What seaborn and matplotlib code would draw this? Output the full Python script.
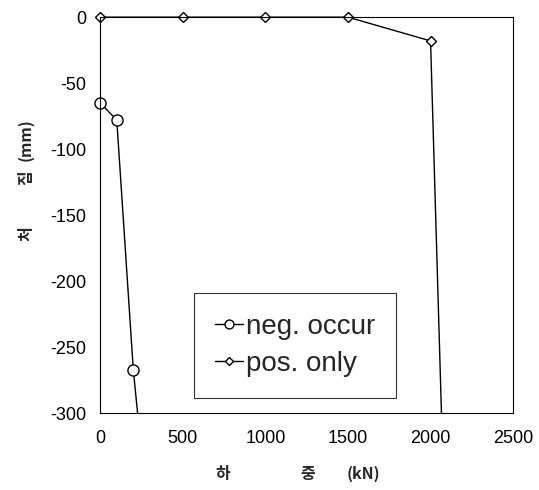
import matplotlib
matplotlib.use("Agg")
import matplotlib.pyplot as plt
import seaborn as sns
import pandas as pd

sns.set_theme(style="white")
plt.rcParams['font.family'] = ['Liberation Sans', 'Noto Sans CJK KR', 'DejaVu Sans']
plt.rcParams['axes.unicode_minus'] = False

# data
neg_x = [0, 100, 200, 226]
neg_y = [-65, -78, -267, -300]
pos_x = [0, 500, 1000, 1500, 2000, 2066]
pos_y = [0, 0, 0, 0, -18, -300]
x_ticks = [0, 500, 1000, 1500, 2000, 2500]
y_ticks = [0, -50, -100, -150, -200, -250, -300]
labels = ["neg. occur", "pos. only"]

fig = plt.figure(figsize=(5.39, 4.9), dpi=100)
ax = fig.add_axes([0.186, 0.157, 0.766, 0.808])

df_neg = pd.DataFrame({"x": neg_x, "y": neg_y})
df_pos = pd.DataFrame({"x": pos_x, "y": pos_y})

sns.lineplot(data=df_neg, x="x", y="y", ax=ax, color="black", lw=1.0,
             marker="o", markersize=8, markerfacecolor="white",
             markeredgecolor="black", markeredgewidth=1.0,
             markevery=[0, 1, 2], label=labels[0], sort=False)
sns.lineplot(data=df_pos, x="x", y="y", ax=ax, color="black", lw=1.0,
             marker="D", markersize=5, markerfacecolor="white",
             markeredgecolor="black", markeredgewidth=1.0,
             markevery=[0, 1, 2, 3, 4], label=labels[1], sort=False)
for line in ax.get_lines():
    line.set_clip_on(False)

ax.set_xlim(0, 2500)
ax.set_ylim(-300, 0)
ax.set_xticks(x_ticks)
ax.set_yticks(y_ticks)
ax.tick_params(axis='both', length=0, labelsize=13, colors='black')
ax.tick_params(axis='y', pad=10)
ax.tick_params(axis='x', pad=12)
for s in ax.spines.values():
    s.set_color('black')
    s.set_linewidth(0.8)
ax.set_xlabel("")
ax.set_ylabel("")

kfont = ['Noto Sans CJK KR', 'DejaVu Sans']
kw = dict(fontsize=11.5, fontweight='bold', family=kfont, ha='center', va='center')
# y label pieces
fig.text(26/539, 1 - 234/490, "처", rotation=90, **kw)
fig.text(26/539, 1 - 178/490, "짐", rotation=90, **kw)
fig.text(26/539, 1 - 140/490, "(mm)", rotation=90, **kw)
# x label pieces
fig.text(223/539, 1 - 474/490, "하", **kw)
fig.text(308/539, 1 - 474/490, "중", **kw)
fig.text(363/539, 1 - 474/490, "(kN)", **kw)

leg = ax.legend(loc='upper left', bbox_to_anchor=(0.228, 0.303), frameon=True,
                fancybox=False, edgecolor='black', handlelength=1.0,
                handletextpad=0.1, borderpad=0.75, borderaxespad=0,
                labelspacing=0.4, markerscale=0.8,
                prop={'family': 'Liberation Sans', 'size': 20})
leg.get_frame().set_linewidth(0.8)

fig.savefig("out.png", dpi=100)
